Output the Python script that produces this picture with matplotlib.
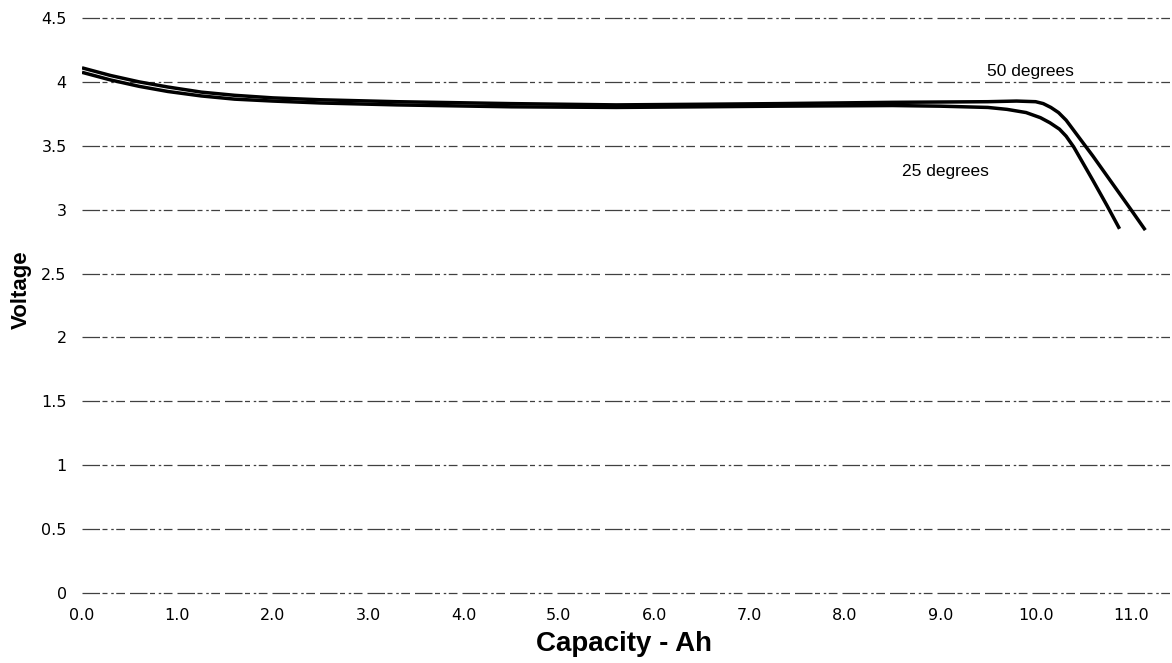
import matplotlib
matplotlib.use('Agg')
import matplotlib.pyplot as plt


# Discharge curves
cap_50 = [0.0, 0.3, 0.6, 0.9, 1.25, 1.6, 2.0, 2.5, 3.3, 4.5, 5.6, 6.5, 7.3,
          8.5, 9.5, 9.8, 10.0, 10.08, 10.16, 10.24, 10.32, 10.4, 10.48, 10.6,
          10.8, 11.0, 11.15]
volt_50 = [4.11, 4.05, 4.00, 3.96, 3.92, 3.895, 3.875, 3.86, 3.845, 3.83,
           3.82, 3.825, 3.83, 3.84, 3.845, 3.85, 3.845, 3.83, 3.80, 3.76,
           3.70, 3.62, 3.54, 3.42, 3.21, 3.00, 2.84]

cap_25 = [0.0, 0.3, 0.6, 0.9, 1.25, 1.6, 2.0, 2.5, 3.3, 4.5, 5.6, 6.5, 7.3,
          8.5, 9.0, 9.5, 9.7, 9.9, 10.05, 10.15, 10.25, 10.32, 10.4, 10.5,
          10.6, 10.75, 10.88]
volt_25 = [4.075, 4.015, 3.965, 3.925, 3.89, 3.865, 3.85, 3.835, 3.82, 3.805,
           3.80, 3.805, 3.81, 3.815, 3.81, 3.80, 3.785, 3.76, 3.72, 3.68,
           3.63, 3.575, 3.49, 3.36, 3.23, 3.03, 2.85]

xticks = [0, 1, 2, 3, 4, 5, 6, 7, 8, 9, 10, 11]
xtick_labels = ['0.0', '1.0', '2.0', '3.0', '4.0', '5.0', '6.0', '7.0', '8.0',
                '9.0', '10.0', '11.0']
yticks = [0, 0.5, 1, 1.5, 2, 2.5, 3, 3.5, 4, 4.5]
ytick_labels = ['0', '0.5', '1', '1.5', '2', '2.5', '3', '3.5', '4', '4.5']


fig = plt.figure(figsize=(11.72, 6.63), dpi=100)
ax = fig.add_axes([82 / 1172, 70 / 663, 1090 / 1172, 575 / 663])

ax.plot(cap_50, volt_50, color='black', lw=2.5, solid_joinstyle='round',
        solid_capstyle='butt', zorder=3)
ax.plot(cap_25, volt_25, color='black', lw=2.5, solid_joinstyle='round',
        solid_capstyle='butt', zorder=3)

ax.set_xlim(0, 11.43)
ax.set_ylim(0, 4.5)

ax.set_xticks(xticks)
ax.set_xticklabels(xtick_labels)
ax.set_yticks(yticks)
ax.set_yticklabels(ytick_labels)
ax.tick_params(axis='both', length=0, labelsize=11.5, pad=11)
for lbl in ax.get_xticklabels() + ax.get_yticklabels():
    lbl.set_family('DejaVu Sans')

# broken horizontal grid lines like the scan
ax.yaxis.grid(True, color='0.25', lw=0.9, dashes=(14, 2, 4, 3, 2, 2, 7, 4))
for gl in ax.get_ygridlines():
    gl.set_clip_on(False)
ax.xaxis.grid(False)
ax.set_axisbelow(True)
for s in ax.spines.values():
    s.set_visible(False)

ax.set_xlabel('Capacity - Ah', fontsize=20, fontweight='bold',
              family='Liberation Sans')
ax.xaxis.set_label_coords(0.497, -0.089)
ax.xaxis.label.set_va('center')
ax.set_ylabel('Voltage', fontsize=16, fontweight='bold', family='Liberation Sans')
ax.yaxis.set_label_coords(-0.056, 0.527)
ax.yaxis.label.set_va('center')

ax.text(9.49, 4.08, '50 degrees', fontsize=12.5, family='Liberation Sans',
        va='center', ha='left', zorder=4,
        bbox=dict(facecolor='white', edgecolor='none', pad=1))
ax.text(8.6, 3.30, '25 degrees', fontsize=12.5, family='Liberation Sans',
        va='center', ha='left', zorder=4)

fig.savefig('out.png', dpi=100)
